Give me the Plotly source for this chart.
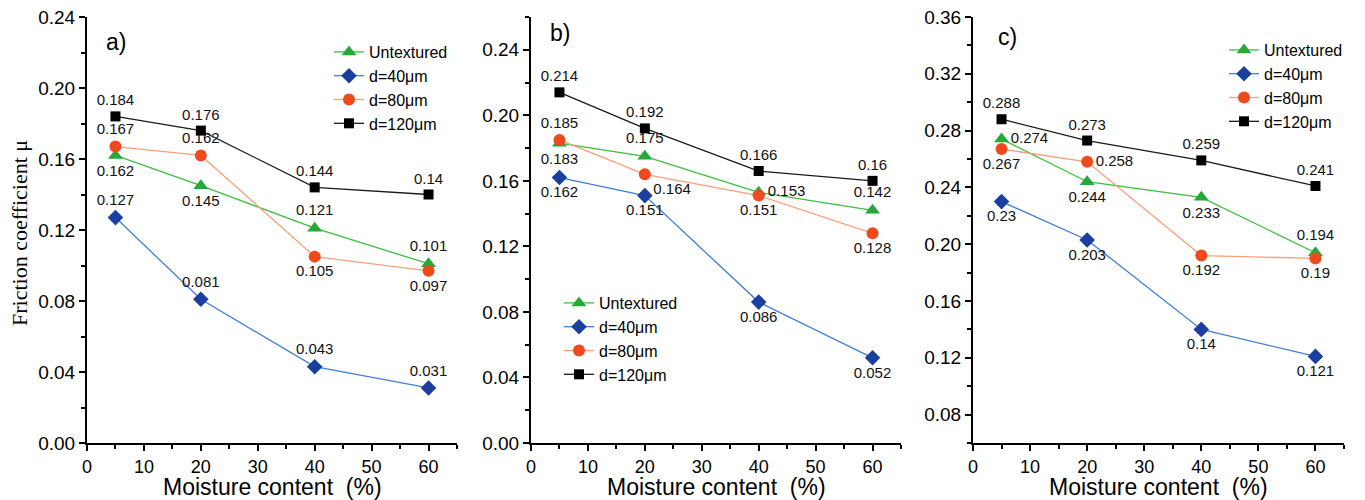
import plotly.graph_objects as go

W, H = 1365, 500

moisture = [5, 20, 40, 60]
series_names = ["Untextured", "d=40μm", "d=80μm", "d=120μm"]

# panel a
a_untextured = [0.162, 0.145, 0.121, 0.101]
a_d40 = [0.127, 0.081, 0.043, 0.031]
a_d80 = [0.167, 0.162, 0.105, 0.097]
a_d120 = [0.184, 0.176, 0.144, 0.14]
# panel b
b_untextured = [0.183, 0.175, 0.153, 0.142]
b_d40 = [0.162, 0.151, 0.086, 0.052]
b_d80 = [0.185, 0.164, 0.151, 0.128]
b_d120 = [0.214, 0.192, 0.166, 0.16]
# panel c
c_untextured = [0.274, 0.244, 0.233, 0.194]
c_d40 = [0.23, 0.203, 0.14, 0.121]
c_d80 = [0.267, 0.258, 0.192, 0.19]
c_d120 = [0.288, 0.273, 0.259, 0.241]

panel_labels = ["a)", "b)", "c)"]
y_ranges = [[0, 0.24], [0, 0.26], [0.06, 0.36]]
x_range = [0, 65]
x_title = "Moisture content\u00a0\u00a0(%)"
y_title = "Friction coefficient μ"

# styles
T, B, R, BR, BL = "top center", "bottom center", "middle right", "bottom right", "bottom left"
text_pos = [
    [[B, B, T, T], [T, T, T, T], [T, T, B, B], [T, T, T, T]],
    [[B, T, R, T], [B, B, B, B], [T, BR, B, B], [T, T, T, T]],
    [[R, B, B, T], [B, B, B, B], [B, R, B, B], [T, T, T, T]],
]
line_colors = ["#3cbf3c", "#3f7fd8", "#f7a07a", "#1a1a1a"]
marker_colors = ["#26a83a", "#1b3f9e", "#ef4a1e", "#000000"]
symbols = ["triangle-up", "diamond", "circle", "square"]
msizes = [13, 12, 12, 10]

panels = [
    [a_untextured, a_d40, a_d80, a_d120],
    [b_untextured, b_d40, b_d80, b_d120],
    [c_untextured, c_d40, c_d80, c_d120],
]

# pixel layout of the panels
x_px = [(87, 457), (531, 901), (973, 1344)]
y_top, y_bot = 17, 443
legend_px = [(329, 35), (559, 286), (1224, 33)]
label_px = [(116, 42), (560, 33), (1007, 37)]
xtitle_y = 487

font = "Liberation Sans, Arial, sans-serif"

fig = go.Figure()
for p, data in enumerate(panels):
    sfx = "" if p == 0 else str(p + 1)
    leg = "legend" if p == 0 else f"legend{p + 1}"
    for s, vals in enumerate(data):
        fig.add_trace(go.Scatter(
            x=moisture, y=vals, mode="lines+markers+text",
            name=series_names[s],
            text=[f"{v:g}" for v in vals],
            textposition=text_pos[p][s],
            textfont=dict(family=font, size=15, color="#111"),
            line=dict(color=line_colors[s], width=1.3),
            marker=dict(symbol=symbols[s], size=msizes[s], color=marker_colors[s],
                        line=dict(width=0)),
            xaxis="x" + sfx, yaxis="y" + sfx, legend=leg,
            cliponaxis=True,
        ))

layout = dict(
    width=W, height=H,
    margin=dict(l=0, r=0, t=0, b=0, autoexpand=False),
    paper_bgcolor="white", plot_bgcolor="white",
    font=dict(family=font, color="black"),
    annotations=[],
)
axis_common = dict(
    showgrid=False, zeroline=False, showline=True, linecolor="black", linewidth=2,
    ticks="outside", ticklen=6, tickwidth=2, tickcolor="black",
    mirror=False, automargin=False,
)
for p in range(3):
    sfx = "" if p == 0 else str(p + 1)
    x0, x1 = x_px[p]
    layout["xaxis" + sfx] = dict(
        axis_common, domain=[x0 / W, x1 / W], range=x_range, dtick=10, tick0=0,
        anchor="y" + sfx, tickfont=dict(family=font, size=18, color="black"),
        minor=dict(ticks="outside", dtick=5, ticklen=4, tickwidth=2, tickcolor="black"),
    )
    layout["yaxis" + sfx] = dict(
        axis_common, domain=[1 - y_bot / H, 1 - y_top / H], range=y_ranges[p],
        dtick=0.04, tick0=0, tickformat=".2f", anchor="x" + sfx,
        tickfont=dict(family=font, size=19, color="black"),
        minor=dict(ticks="outside", dtick=0.02, ticklen=4, tickwidth=2, tickcolor="black"),
    )
    lx, ly = legend_px[p]
    layout["legend" if p == 0 else f"legend{p + 1}"] = dict(
        x=lx / W, y=1 - ly / H, xanchor="left", yanchor="top",
        bgcolor="rgba(0,0,0,0)", borderwidth=0, tracegroupgap=0,
        font=dict(family=font, size=16, color="black"),
        itemwidth=30,
    )
    px_, py_ = label_px[p]
    layout["annotations"].append(dict(
        x=px_ / W, y=1 - py_ / H, xref="paper", yref="paper", text=panel_labels[p],
        showarrow=False, font=dict(family=font, size=23, color="black"),
        xanchor="center", yanchor="middle",
    ))
    layout["annotations"].append(dict(
        x=(x0 + x1) / 2 / W, y=1 - xtitle_y / H, xref="paper", yref="paper",
        text=x_title, showarrow=False,
        font=dict(family=font, size=23, color="black"),
        xanchor="center", yanchor="middle",
    ))

layout["annotations"].append(dict(
    x=20 / W, y=1 - 233 / H, xref="paper", yref="paper", text=y_title,
    showarrow=False, textangle=-90,
    font=dict(family="Liberation Serif, Times New Roman, serif", size=22, color="black"),
    xanchor="center", yanchor="middle",
))

fig.update_layout(**layout)
fig.write_html("out.html", post_script="document.body.style.margin='0';",
               config={"displayModeBar": False})
